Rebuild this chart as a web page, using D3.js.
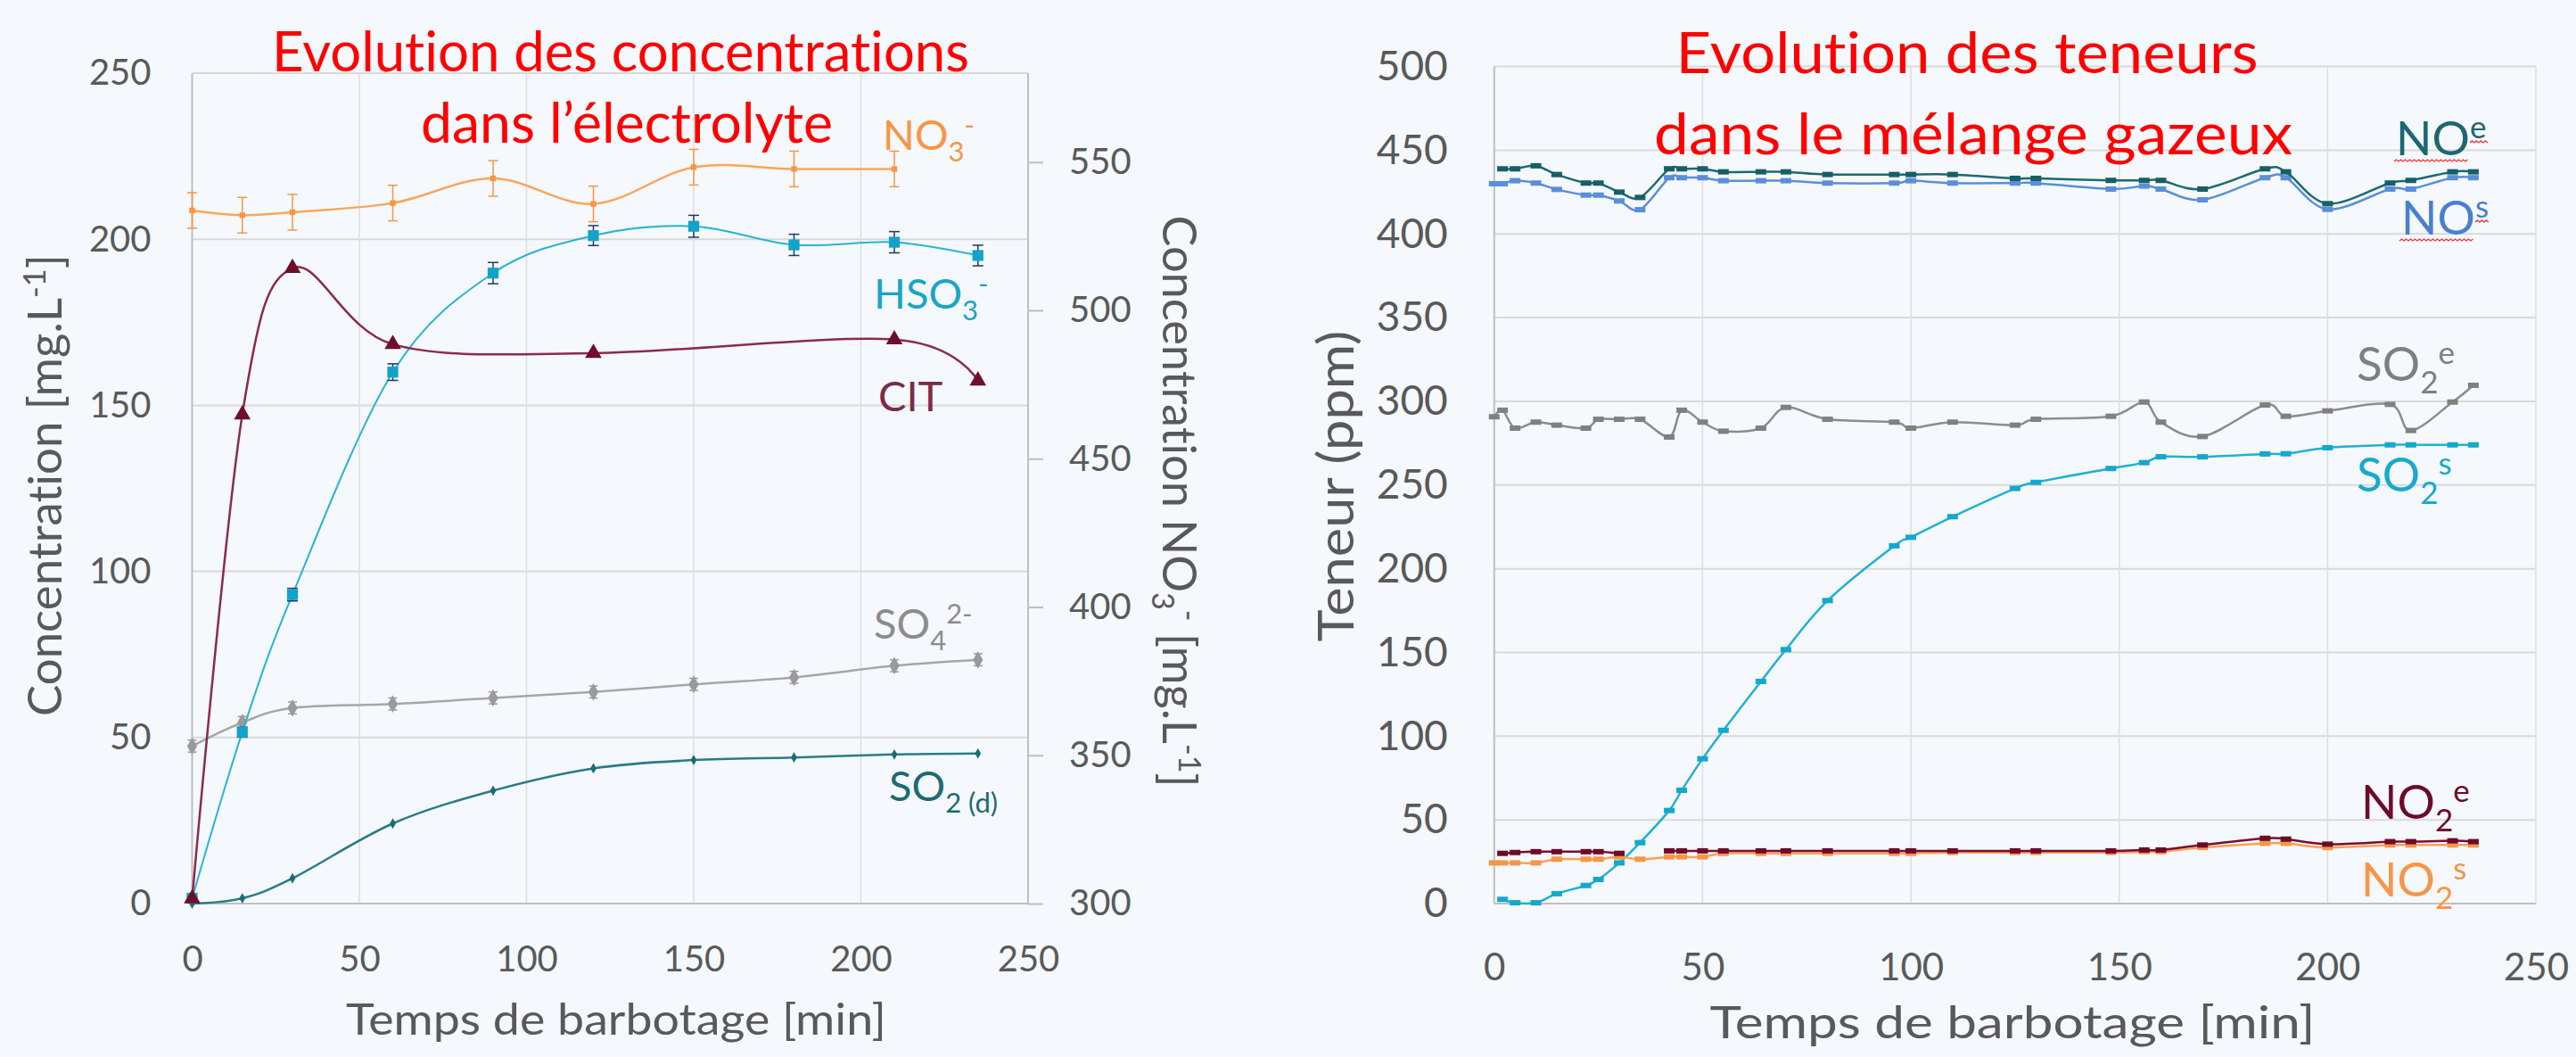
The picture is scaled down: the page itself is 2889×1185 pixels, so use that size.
<!DOCTYPE html>
<html>
<head>
<meta charset="utf-8">
<script src="https://cdn.jsdelivr.net/npm/d3@7"></script>
<style>
html, body { margin: 0; padding: 0; background: #F5F8FC; }
svg { display: block; }
text { font-variant-ligatures: none; }
</style>
</head>
<body>
<div id="chart-area"></div>
<script>

// ---- graphique de gauche : concentrations dans l'électrolyte ----
const tempsElec = [0, 15, 30, 60, 90, 120, 150, 180, 210, 235];
const no3  = [533.7, 532.1, 533.1, 536.2, 544.5, 535.9, 548.3, 547.7, 547.7, null];   // axe de droite
const no3Err = 6;
const hso3 = [1.6, 51.6, 93.0, 160.0, 189.8, 201.1, 203.9, 198.3, 199.1, 195.1];
const hso3Err = [0.5, 1.5, 1.9, 2.5, 3.2, 3.0, 3.3, 3.2, 3.2, 3.1];
const cit  = [1.5, 147.2, 191.3, 168.4, null, 165.7, null, null, 169.8, 157.4];
const so4  = [47.4, 54.5, 58.9, 60.1, 61.9, 63.7, 66.0, 68.1, 71.6, 73.4];
const so4Err = 1.8;
const so2d = [0, 1.6, 7.6, 24.1, 34.0, 40.7, 43.2, 44.0, 44.9, 45.2];

const ticksX = [0, 50, 100, 150, 200, 250];
const ticksConc = [0, 50, 100, 150, 200, 250];
const ticksNO3 = [300, 350, 400, 450, 500, 550];

// ---- graphique de droite : teneurs dans le mélange gazeux ----
const tempsGaz = [0, 2, 5, 10, 15, 22, 25, 30, 35, 42, 45, 50, 55, 64, 70, 80, 96, 100,
                  110, 125, 130, 148, 156, 160, 170, 185, 190, 200, 215, 220, 230, 235];
const noE  = [null, 438.9, 438.9, 440.7, 435.5, 430.4, 430.4, 425.0, 421.8, 438.9, 438.9, 438.9, 437.1, 437.1, 437.1, 435.5, 435.5, 435.5,
              435.5, 433.2, 433.2, 432.0, 432.0, 432.0, 426.8, 438.9, 437.1, 418.1, 430.4, 432.0, 437.1, 437.1];
const noS  = [430.0, 430.0, 431.8, 430.4, 426.6, 423.2, 423.2, 419.7, 414.5, 433.6, 433.6, 433.6, 431.8, 431.8, 431.8, 430.4, 430.4, 431.8,
              430.4, 430.4, 430.4, 426.8, 428.6, 426.8, 420.4, 433.6, 433.6, 414.7, 426.8, 426.8, 433.6, 433.6];
const so2E = [290.8, 294.7, 284.0, 287.6, 285.8, 284.0, 289.3, 289.3, 289.3, 278.7, 294.7, 287.6, 282.2, 284.0, 296.4, 289.3, 287.6, 284.0,
              287.6, 285.8, 289.3, 291.1, 299.6, 287.6, 279.0, 297.8, 291.1, 294.3, 298.2, 282.6, 299.6, 309.6];
const so2S = [null, 2.5, 0.5, 0.5, 5.9, 10.8, 14.4, 24.3, 36.4, 55.6, 67.7, 86.5, 103.5, 132.7, 151.7, 181.0, 213.7, 218.8,
              231.1, 248.0, 251.6, 259.9, 263.4, 266.9, 266.9, 268.6, 268.7, 272.3, 274.0, 274.0, 274.0, 274.0];
const no2E = [null, 30.0, 30.5, 31.0, 31.0, 31.0, 31.0, 30.0, null, 31.5, 31.5, 31.5, 31.5, 31.5, 31.5, 31.5, 31.5, 31.5,
              31.5, 31.5, 31.5, 31.5, 32.0, 32.0, 35.0, 39.0, 38.5, 35.5, 37.0, 37.0, 37.5, 37.0];
const no2S = [24.3, 24.3, 24.3, 24.3, 26.5, 26.5, 26.5, 27.9, 26.5, 27.9, 27.9, 27.9, 30.0, 30.0, 30.0, 30.0, 30.0, 30.0,
              30.5, 30.5, 30.5, 30.5, 31.0, 31.0, 33.5, 36.0, 36.0, 33.5, 35.0, 35.0, 35.0, 35.0];

const ticksTeneur = [0, 50, 100, 150, 200, 250, 300, 350, 400, 450, 500];


const W = 2889, H = 1185;
const FONT = "Lato, 'Liberation Sans', sans-serif";
const GRIS = "#595959";

const svg = d3.select("#chart-area")
    .append("svg")
    .attr("width", W)
    .attr("height", H);

svg.append("rect").attr("width", W).attr("height", H).attr("fill", "#F5F8FC");

// zip valeurs -> points
const pts = (xs, ys) => xs.map((t, i) => [t, ys[i]]);

function grille(g, x, y, xt, yt) {
    const [x0, x1] = x.range(), [y0, y1] = y.range();
    g.selectAll(".gh").data(yt).enter().append("line")
        .attr("x1", x0).attr("x2", x1)
        .attr("y1", d => y(d)).attr("y2", d => y(d))
        .attr("stroke", "#D9D9D9").attr("stroke-width", 2);
    g.selectAll(".gv").data(xt).enter().append("line")
        .attr("x1", d => x(d)).attr("x2", d => x(d))
        .attr("y1", y0).attr("y2", y1)
        .attr("stroke", "#DEDEDE").attr("stroke-width", 1.5);
    // axes gris
    g.append("line").attr("x1", x0).attr("x2", x0).attr("y1", y0).attr("y2", y1)
        .attr("stroke", "#BFBFBF").attr("stroke-width", 2);
    g.append("line").attr("x1", x0).attr("x2", x1).attr("y1", y0).attr("y2", y0)
        .attr("stroke", "#BFBFBF").attr("stroke-width", 2);
}

function styleAxe(g, size) {
    g.select(".domain").remove();
    g.attr("font-family", FONT).attr("font-size", size);
    g.selectAll("text").attr("fill", GRIS);
}

function courbe(g, data, x, y, color, width, connect) {
    let d = data;
    const line = d3.line()
        .x(p => x(p[0])).y(p => y(p[1]))
        .curve(d3.curveCardinal.tension(0));
    if (connect) d = data.filter(p => p[1] != null);
    else line.defined(p => p[1] != null);
    g.append("path").datum(d)
        .attr("d", line)
        .attr("fill", "none")
        .attr("stroke", color)
        .attr("stroke-width", width);
}

function barres(g, data, err, x, y, color, cap, width) {
    const d = data.filter(p => p[1] != null);
    const e = i => Array.isArray(err) ? err[i] : err;
    const sel = g.selectAll(null).data(d).enter().append("g").attr("stroke", color).attr("stroke-width", width);
    sel.append("line")
        .attr("x1", p => x(p[0])).attr("x2", p => x(p[0]))
        .attr("y1", (p, i) => y(p[1] - e(i))).attr("y2", (p, i) => y(p[1] + e(i)));
    sel.append("line")
        .attr("x1", p => x(p[0]) - cap / 2).attr("x2", p => x(p[0]) + cap / 2)
        .attr("y1", (p, i) => y(p[1] - e(i))).attr("y2", (p, i) => y(p[1] - e(i)));
    sel.append("line")
        .attr("x1", p => x(p[0]) - cap / 2).attr("x2", p => x(p[0]) + cap / 2)
        .attr("y1", (p, i) => y(p[1] + e(i))).attr("y2", (p, i) => y(p[1] + e(i)));
}

function marqueurs(g, data, x, y, type, size, color) {
    const d = data.filter(p => p[1] != null);
    const sym = {
        square: d3.symbolSquare, triangle: d3.symbolTriangle, diamond: d3.symbolDiamond
    };
    if (type === "dash") {
        g.selectAll(null).data(d).enter().append("rect")
            .attr("x", p => x(p[0]) - size[0] / 2).attr("y", p => y(p[1]) - size[1] / 2)
            .attr("width", size[0]).attr("height", size[1])
            .attr("fill", color);
    } else {
        g.selectAll(null).data(d).enter().append("path")
            .attr("transform", p => `translate(${x(p[0])},${y(p[1])})`)
            .attr("d", d3.symbol().type(sym[type]).size(size))
            .attr("fill", color);
    }
}

// étiquette avec indices / exposants
function etiquette(g, x, y, parts, color, size) {
    const t = g.append("text").attr("x", x).attr("y", y).attr("fill", color)
        .attr("font-family", FONT).attr("font-size", size);
    let off = 0;
    parts.forEach(p => {
        const target = p.sub ? size * 0.27 : p.sup ? -size * 0.36 : 0;
        t.append("tspan").attr("dy", target - off)
            .attr("font-size", (p.sub || p.sup) ? size * 0.66 : size).text(p.t);
        off = target;
    });
    return { t };
}

// soulignement rouge ondulé (correcteur orthographique)
function vague(g, x1, x2, y) {
    let d = `M${x1},${y}`;
    let up = true;
    for (let xx = x1 + 2.5; xx <= x2; xx += 2.5) {
        d += `L${xx},${y + (up ? -2 : 0)}`;
        up = !up;
    }
    g.append("path").attr("d", d).attr("fill", "none").attr("stroke", "#FF3030").attr("stroke-width", 1.3);
}

// ================= graphique de gauche =================
const gL = svg.append("g");
const xG = d3.scaleLinear().domain([0, 250]).range([215.5, 1153]);
const yG = d3.scaleLinear().domain([0, 250]).range([1013, 82]);
const yN = d3.scaleLinear().domain([300, 580]).range([1013, 82]);

grille(gL, xG, yG, ticksX.slice(1), ticksConc.slice(1));
gL.append("line").attr("x1", xG(250)).attr("x2", xG(250)).attr("y1", 82).attr("y2", 1013)
    .attr("stroke", "#BFBFBF").attr("stroke-width", 2);

gL.append("g").attr("transform", `translate(${xG(0)},0)`)
    .call(d3.axisLeft(yG).tickValues(ticksConc).tickSize(0).tickPadding(46))
    .call(g => styleAxe(g, 40));
gL.append("g").attr("transform", `translate(${xG(250)},0)`)
    .call(d3.axisRight(yN).tickValues(ticksNO3).tickSize(17).tickPadding(29))
    .call(g => styleAxe(g, 40))
    .call(g => g.selectAll("line").attr("stroke", "#BFBFBF").attr("stroke-width", 2));
gL.append("g").attr("transform", `translate(0,${yG(0)})`)
    .call(d3.axisBottom(xG).tickValues(ticksX).tickSize(0).tickPadding(48))
    .call(g => styleAxe(g, 40));

// séries
courbe(gL, pts(tempsElec, no3), xG, yN, "#F9A65A", 2.5, true);
barres(gL, pts(tempsElec, no3), no3Err, xG, yN, "#F79646", 11, 1.5);
marqueurs(gL, pts(tempsElec, no3), xG, yN, "square", 40, "#F79646");

courbe(gL, pts(tempsElec, so4), xG, yG, "#A6A6A6", 2.5, true);
barres(gL, pts(tempsElec, so4), so4Err, xG, yG, "#9A9A9A", 10, 1.5);
marqueurs(gL, pts(tempsElec, so4), xG, yG, "diamond", 110, "#9A9A9A");

courbe(gL, pts(tempsElec, so2d), xG, yG, "#2A7C86", 2.5, true);
marqueurs(gL, pts(tempsElec, so2d), xG, yG, "diamond", 40, "#1B6B75");

courbe(gL, pts(tempsElec, hso3), xG, yG, "#28B4D6", 2, true);
barres(gL, pts(tempsElec, hso3), hso3Err, xG, yG, "#203864", 12, 1.5);
marqueurs(gL, pts(tempsElec, hso3), xG, yG, "square", 150, "#12A3C8");

courbe(gL, pts(tempsElec, cit), xG, yG, "#8C2A4C", 2.5, true);
marqueurs(gL, pts(tempsElec, cit), xG, yG, "triangle", 150, "#6E0E2B");

// étiquettes
etiquette(gL, 990, 168, [{ t: "NO" }, { t: "3", sub: 1 }, { t: "-", sup: 1 }], "#F79646", 47);
etiquette(gL, 980, 346, [{ t: "HSO" }, { t: "3", sub: 1 }, { t: "-", sup: 1 }], "#17A6C8", 47);
etiquette(gL, 985, 461, [{ t: "CIT" }], "#7B2C46", 47);
etiquette(gL, 980, 716, [{ t: "SO" }, { t: "4", sub: 1 }, { t: "2-", sup: 1 }], "#8C8C8C", 47);
etiquette(gL, 997, 898, [{ t: "SO" }, { t: "2 (d)", sub: 1 }], "#1B6B73", 47);

// titres
gL.append("text").attr("x", 696).attr("y", 80).attr("text-anchor", "middle")
    .attr("font-family", FONT).attr("font-size", 61).attr("fill", "#FF0000")
    .attr("textLength", 782).attr("lengthAdjust", "spacingAndGlyphs")
    .text("Evolution des concentrations");
gL.append("text").attr("x", 703).attr("y", 160).attr("text-anchor", "middle")
    .attr("font-family", FONT).attr("font-size", 61).attr("fill", "#FF0000")
    .attr("textLength", 462).attr("lengthAdjust", "spacingAndGlyphs")
    .text("dans l’électrolyte");

gL.append("text").attr("x", 691).attr("y", 1160).attr("text-anchor", "middle")
    .attr("font-family", FONT).attr("font-size", 48).attr("fill", GRIS)
    .attr("textLength", 606).attr("lengthAdjust", "spacingAndGlyphs")
    .text("Temps de barbotage [min]");

const tY = gL.append("text").attr("transform", "translate(69,544) rotate(-90)")
    .attr("text-anchor", "middle").attr("font-family", FONT).attr("font-size", 52).attr("fill", GRIS)
    .attr("textLength", 518).attr("lengthAdjust", "spacingAndGlyphs");
tY.append("tspan").text("Concentration [mg.L");
tY.append("tspan").attr("dy", -18).attr("font-size", 34).text("-1");
tY.append("tspan").attr("dy", 18).text("]");

const tY2 = gL.append("text").attr("transform", "translate(1304,562) rotate(90)")
    .attr("text-anchor", "middle").attr("font-family", FONT).attr("font-size", 52).attr("fill", GRIS)
    .attr("textLength", 641).attr("lengthAdjust", "spacingAndGlyphs");
tY2.append("tspan").text("Concentration NO");
tY2.append("tspan").attr("dy", 12).attr("font-size", 34).text("3");
tY2.append("tspan").attr("dy", -30).attr("font-size", 34).text("-");
tY2.append("tspan").attr("dy", 18).text(" [mg.L");
tY2.append("tspan").attr("dy", -18).attr("font-size", 34).text("-1");
tY2.append("tspan").attr("dy", 18).text("]");

// ================= graphique de droite =================
const gR = svg.append("g");
const xT = d3.scaleLinear().domain([0, 250]).range([1675.8, 2844]);
const yT = d3.scaleLinear().domain([0, 500]).range([1013, 74.6]);

grille(gR, xT, yT, ticksX.slice(1), ticksTeneur.slice(1));

gR.append("g").attr("transform", `translate(${xT(0)},0)`)
    .call(d3.axisLeft(yT).tickValues(ticksTeneur).tickSize(0).tickPadding(52))
    .call(g => styleAxe(g, 46));
gR.append("g").attr("transform", `translate(0,${yT(0)})`)
    .call(d3.axisBottom(xT).tickValues(ticksX).tickSize(0).tickPadding(56))
    .call(g => styleAxe(g, 42));

const seriesGaz = [
    { v: so2S, c: "#1FB1D3", m: "#14A8CC" },
    { v: so2E, c: "#8C8C8C", m: "#808080" },
    { v: noS,  c: "#5B8ED8", m: "#5A8FD8" },
    { v: noE,  c: "#1A6A70", m: "#165F66" },
    { v: no2S, c: "#F9A15A", m: "#F79646" },
    { v: no2E, c: "#7A0C2E", m: "#6E0A29" }
];
seriesGaz.forEach(s => {
    courbe(gR, pts(tempsGaz, s.v), xT, yT, s.c, 2.5, false);
    marqueurs(gR, pts(tempsGaz, s.v), xT, yT, "dash", [12, 6], s.m);
});

// étiquettes
const lNoE = etiquette(gR, 2687, 174, [{ t: "NO" }, { t: "e", sup: 1 }], "#1C6770", 53);
const lNoS = etiquette(gR, 2693, 263, [{ t: "NO" }, { t: "s", sup: 1 }], "#4A7FCF", 53);
etiquette(gR, 2643, 427, [{ t: "SO" }, { t: "2", sub: 1 }, { t: "e", sup: 1 }], "#7F7F7F", 53);
etiquette(gR, 2643, 551, [{ t: "SO" }, { t: "2", sub: 1 }, { t: "s", sup: 1 }], "#18A9CB", 53);
etiquette(gR, 2648, 918, [{ t: "NO" }, { t: "2", sub: 1 }, { t: "e", sup: 1 }], "#6E0A29", 53);
etiquette(gR, 2648, 1005, [{ t: "NO" }, { t: "2", sub: 1 }, { t: "s", sup: 1 }], "#F79646", 53);

[[lNoE, 174], [lNoS, 263]].forEach(([l, y]) => {
    const n = l.t.node();
    const a = n.getExtentOfChar(0), b = n.getExtentOfChar(1), c = n.getExtentOfChar(2);
    vague(gR, a.x - 2, b.x + b.width, y + 7);
    vague(gR, c.x, c.x + c.width + 2, y - 53 * 0.36 + 5);
});

gR.append("text").attr("x", 2206).attr("y", 82).attr("text-anchor", "middle")
    .attr("font-family", FONT).attr("font-size", 64).attr("fill", "#FF0000")
    .attr("textLength", 653).attr("lengthAdjust", "spacingAndGlyphs")
    .text("Evolution des teneurs");
gR.append("text").attr("x", 2213).attr("y", 173).attr("text-anchor", "middle")
    .attr("font-family", FONT).attr("font-size", 64).attr("fill", "#FF0000")
    .attr("textLength", 716).attr("lengthAdjust", "spacingAndGlyphs")
    .text("dans le mélange gazeux");

gR.append("text").attr("x", 2257).attr("y", 1164).attr("text-anchor", "middle")
    .attr("font-family", FONT).attr("font-size", 51).attr("fill", GRIS)
    .attr("textLength", 679).attr("lengthAdjust", "spacingAndGlyphs")
    .text("Temps de barbotage [min]");

gR.append("text").attr("transform", "translate(1518,545) rotate(-90)")
    .attr("text-anchor", "middle").attr("font-family", FONT).attr("font-size", 56).attr("fill", GRIS)
    .attr("textLength", 349).attr("lengthAdjust", "spacingAndGlyphs")
    .text("Teneur (ppm)");

</script>
</body>
</html>
